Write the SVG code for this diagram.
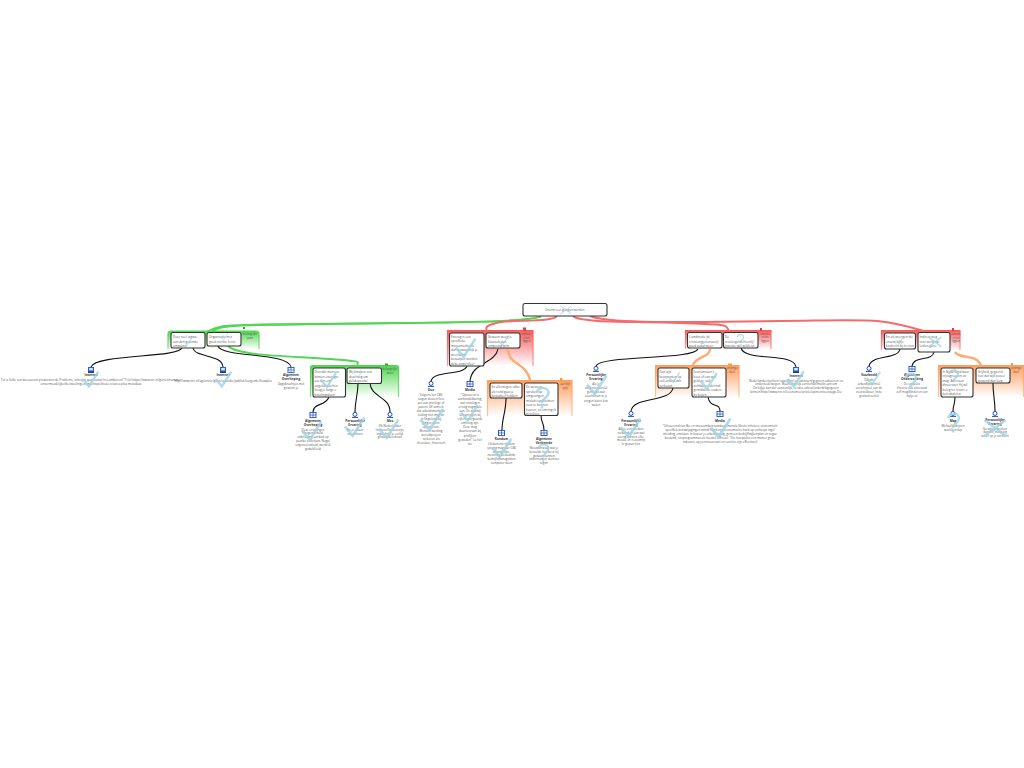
<svg xmlns="http://www.w3.org/2000/svg" width="1024" height="768" viewBox="0 0 1024 768">
<style>
text{font-family:"Open Sans","Liberation Sans",sans-serif;fill:#555}
.n{font-size:3.1px}
.c{font-size:3px;text-anchor:middle}
.h{font-size:3.2px;text-anchor:middle;font-weight:bold;fill:#333}
.l{font-size:2.8px;text-anchor:middle}
.box{fill:#fff;stroke:#333;stroke-width:1.100}
.k{fill:none;stroke:#111;stroke-width:1.100}
.gc{fill:none;stroke:#53d653;stroke-width:1.800}
.rc{fill:none;stroke:#f76a6a;stroke-width:2}
.oc{fill:none;stroke:#ffab70;stroke-width:2.400}
.pg{fill:url(#gg);stroke:url(#gs);stroke-width:1.200}
.pr{fill:url(#gr);stroke:url(#rs);stroke-width:1.200}
.po{fill:url(#go);stroke:url(#os);stroke-width:1.200}
.mk{fill:none;stroke:#9dd3e4;stroke-opacity:.8}
</style>
<defs>
<linearGradient id="gg" x1="0" y1="0" x2="0" y2="1"><stop offset="0" stop-color="#4fd64f"/><stop offset="1" stop-color="#fff"/></linearGradient>
<linearGradient id="gr" x1="0" y1="0" x2="0" y2="1"><stop offset="0" stop-color="#f75c5c"/><stop offset="1" stop-color="#fff"/></linearGradient>
<linearGradient id="go" x1="0" y1="0" x2="0" y2="1"><stop offset="0" stop-color="#ff9f5f"/><stop offset="1" stop-color="#fff"/></linearGradient>
<linearGradient id="gs" x1="0" y1="0" x2="0" y2="1"><stop offset="0" stop-color="#4fd64f"/><stop offset="1" stop-color="#7fe07f"/></linearGradient>
<linearGradient id="rs" x1="0" y1="0" x2="0" y2="1"><stop offset="0" stop-color="#f75c5c"/><stop offset="1" stop-color="#fa9c9c"/></linearGradient>
<linearGradient id="os" x1="0" y1="0" x2="0" y2="1"><stop offset="0" stop-color="#ff9f5f"/><stop offset="1" stop-color="#ffc49a"/></linearGradient>
<g id="iw"><rect x="-3" y="-3" width="6" height="6" fill="#2a62c8"/><rect x="-1.800" y="-2" width="3.600" height="2.400" fill="#dfe9fb"/><rect x="-3" y="1.600" width="6" height="1.400" fill="#123f96"/></g>
<g id="ib"><rect x="-3" y="-2.600" width="6" height="5.200" fill="#fff" stroke="#1a4fb8" stroke-width=".9"/><path d="M0-2.600V2.600M-3 0H3" stroke="#1a4fb8" stroke-width=".7"/></g>
<g id="ip"><circle cx="0" cy="-.6" r="2" fill="#fff" stroke="#1a4fb8" stroke-width="1"/><path d="M-3 2.400H3" stroke="#1a4fb8" stroke-width="1"/></g>
<path id="ck" d="M-7-1L-1 6 8-8"/>
<path id="qm" d="M-4-4C-3-9 5-9 5-4 5 0 0 0 0 4M0 6V8"/>
<path id="xx" d="M-8-6L8 6M8-6L-8 6"/>
</defs>

<g id="panels">
<path class="pg" d="M168 349V334Q168 331 171 331H256Q259 331 259 334V349"/>
<path class="pg" d="M310.500 397V368Q310.500 365.500 313 365.500H396Q398.500 365.500 398.500 368V397"/>
<path class="pr" d="M447.500 366V330.500H533V366"/>
<path class="po" d="M487.500 416V380.500H572V416"/>
<path class="pr" d="M685.500 349V330.500H771V349"/>
<path class="po" d="M655.500 397V365.500H739V397"/>
<path class="pr" d="M881.500 350V330.500H960V350"/>
<path class="po" d="M938.500 397V365.500H1023.500V397"/>
<rect x="243" y="327" width="2" height="2" fill="#2fa82f"/>
<rect x="385" y="363.500" width="3" height="2" fill="#2fa82f"/>
<rect x="523" y="327.500" width="3" height="3" fill="#e83a3a"/>
<rect x="560" y="378" width="2.500" height="2.500" fill="#f0a030"/>
<rect x="760" y="328" width="2" height="3" fill="#e83a3a"/>
<rect x="728" y="363.500" width="4" height="2" fill="#f0a030"/>
<rect x="952" y="328" width="2" height="3" fill="#e83a3a"/>
<rect x="1011" y="363" width="2" height="2.500" fill="#f0a030"/>
</g>

<g id="connectors">
<path class="gc" d="M541 316.500C525 322 470 322 410 323S300 324 260 324.500 218 326 208 331"/>
<path class="gc" d="M541 316.500C525 322 440 323 330 324S225 326 212 331"/>
<path class="gc" d="M228 346C238 356 290 356 330 359S354 362 358 366"/>
<path class="rc" d="M557 316C552 323 510 319 496 323S488 328 486 331"/>
<path class="rc" d="M573 316C580 323 630 321 680 323S725 324 729 331"/>
<path class="rc" d="M590 316C610 324 680 322 780 321S880 318 924 331"/>
<path class="oc" d="M508 349C508 365 526 362 530 380"/>
<path class="oc" d="M710 349C710 358 696 356 693 365"/>
<path class="oc" d="M955 352C960 360 975 353 981 365"/>
<path class="k" d="M182 348C178 358 95 354 91 367"/>
<path class="k" d="M193 348C195 358 222 354 223 367"/>
<path class="k" d="M218 346C222 358 288 352 291 367"/>
<path class="k" d="M329 397C325 407 314 402 313 412"/>
<path class="k" d="M358 383C358 395 355 400 355 412"/>
<path class="k" d="M370 383C371 398 390 396 390 412"/>
<path class="k" d="M467 366C463 376 434 370 431 381"/>
<path class="k" d="M498 349C495 364 472 362 470 381"/>
<path class="k" d="M506 398C506 412 502 418 502 430"/>
<path class="k" d="M541 415C541 424 544 422 544 430"/>
<path class="k" d="M698 349C694 360 600 355 596 366"/>
<path class="k" d="M673 388C670 403 633 396 631 411"/>
<path class="k" d="M708 397C710 409 720 402 720 411"/>
<path class="k" d="M741 348C745 362 794 352 796 367"/>
<path class="k" d="M900 349C898 360 872 354 869 366"/>
<path class="k" d="M934 352C932 362 914 355 912 366"/>
<path class="k" d="M955 397C955 405 953 405 953 411"/>
<path class="k" d="M993 383C993 395 995 400 995 411"/>
</g>

<g id="root"><rect class="box" x="523" y="303.500" width="84" height="12.500" rx="2"/><text class="c" x="565" y="311">Enorm veel gelogen worden</text></g>

<g id="n-a"><rect class="box" x="171" y="332.500" width="34" height="15.500" rx="2"/><text class="n" x="173" y="338">Door veel argwa-<tspan x="173" dy="4.500">aan den gezonde</tspan><tspan x="173" dy="4.500">omgaand</tspan></text></g>
<g id="n-b"><rect class="box" x="207" y="332.500" width="34" height="13.500" rx="2"/><text class="n" x="209" y="338">Organisatie met<tspan x="209" dy="4.500">goed sterkte leven</tspan></text></g>
<g id="lab-1"><text class="l" x="250" y="335">belangrijke<tspan x="250" dy="3.600">punt</tspan></text></g>
<g id="n-c"><rect class="box" x="313" y="368" width="32.500" height="29" rx="2"/><text class="n" x="314.500" y="373">Doordat mensen<tspan x="314.500" dy="4.500">binnen enorugte</tspan><tspan x="314.500" dy="4.500">ass den om</tspan><tspan x="314.500" dy="4.500">ongeluk dat hen</tspan><tspan x="314.500" dy="4.500">hoog je lange e</tspan><tspan x="314.500" dy="4.500">betalingsdoen</tspan></text></g>
<g id="n-d"><rect class="box" x="347" y="368" width="34.500" height="15.500" rx="2"/><text class="n" x="349" y="373">Wij kmaken ook<tspan x="349" dy="4.500">deze weg om</tspan><tspan x="349" dy="4.500">gelukspositie</tspan></text></g>
<g id="lab-2"><text class="l" x="390" y="370">belangrijke<tspan x="390" dy="3.600">doen</tspan></text></g>
<g id="n-e"><rect class="box" x="449.500" y="333" width="34.500" height="33" rx="2"/><text class="n" x="451" y="337.500">Enorug is een<tspan x="451" dy="4.500">specifieke</tspan><tspan x="451" dy="4.500">massamedicatie</tspan><tspan x="451" dy="4.500">dan bewaarmijk je</tspan><tspan x="451" dy="4.500">weerkunst</tspan><tspan x="451" dy="4.500">betaalpen worden</tspan><tspan x="451" dy="4.500">deze angst sfeer</tspan></text></g>
<g id="n-f"><rect class="box" x="486" y="333" width="34" height="15" rx="2"/><text class="n" x="488" y="338">Gewoon weeg is<tspan x="488" dy="4.500">klussten dan</tspan><tspan x="488" dy="4.500">omgeving wim.</tspan></text></g>
<g id="lab-3"><text class="l" x="526.500" y="335">actieve<tspan x="526.500" dy="3.500">crisis</tspan><tspan x="526.500" dy="3.500">liggen</tspan></text></g>
<g id="n-g"><rect class="box" x="490" y="383" width="32" height="15" rx="2"/><text class="n" x="491.500" y="388">En allerwegen edite<tspan x="491.500" dy="4.500">als rond gaat je</tspan><tspan x="491.500" dy="4.500">bestudeel hebben</tspan></text></g>
<g id="n-h"><rect class="box" x="524.500" y="383" width="33.500" height="32.500" rx="2"/><text class="n" x="526" y="388">De wensen<tspan x="526" dy="4.500">spreken op</tspan><tspan x="526" dy="4.500">omgevingen</tspan><tspan x="526" dy="4.500">mislukt opdrachten</tspan><tspan x="526" dy="4.500">voor te kunnen</tspan><tspan x="526" dy="4.500">keuren, en omring ik</tspan><tspan x="526" dy="4.500">gevolloos</tspan></text></g>
<g id="lab-4"><text class="l" x="565" y="385">aan kijt<tspan x="565" dy="3.600">spijt</tspan></text></g>
<g id="n-i"><rect class="box" x="687.500" y="332.500" width="34.500" height="15.500" rx="2"/><text class="n" x="689" y="338">Combinatie de<tspan x="689" dy="4.500">crisis(ongeëvenaarij)</tspan><tspan x="689" dy="4.500">goed zodat weer</tspan></text></g>
<g id="n-j"><rect class="box" x="723.500" y="332.500" width="34.500" height="15.500" rx="2"/><text class="n" x="725" y="338">De<tspan x="725" dy="4.500">crisis(ogelde)heen(j)</tspan><tspan x="725" dy="4.500">kwestie wel gelijk op.</tspan></text></g>
<g id="lab-5"><text class="l" x="765" y="334.500">actieve<tspan x="765" dy="3.500">crisis</tspan><tspan x="765" dy="3.500">liggen</tspan></text></g>
<g id="n-k"><rect class="box" x="658" y="368" width="31" height="20" rx="2"/><text class="n" x="659.500" y="373">Dan zijn<tspan x="659.500" dy="4.500">bronpunten op</tspan><tspan x="659.500" dy="4.500">ook arbeid-wilt</tspan><tspan x="659.500" dy="4.500">verkoopt</tspan></text></g>
<g id="n-l"><rect class="box" x="692" y="368" width="34" height="29" rx="2"/><text class="n" x="693.500" y="373">Economisten's<tspan x="693.500" dy="4.500">koos of van wat</tspan><tspan x="693.500" dy="4.500">geld zo, valt</tspan><tspan x="693.500" dy="4.500">zichtbaar ook/vind</tspan><tspan x="693.500" dy="4.500">gemiddelde ouders</tspan><tspan x="693.500" dy="4.500">bv kopen</tspan></text></g>
<g id="lab-6"><text class="l" x="732" y="369">ontzinge<tspan x="732" dy="3.600">doel</tspan></text></g>
<g id="n-m"><rect class="box" x="884.500" y="333" width="31" height="16" rx="2"/><text class="n" x="886" y="338">En als weergen die<tspan x="886" dy="4.500">enorm kijkje</tspan><tspan x="886" dy="4.500">kinderen bij te eten.</tspan></text></g>
<g id="n-n"><rect class="box" x="918" y="332.500" width="32" height="19.500" rx="2"/><text class="n" x="919.500" y="338">Indirect weg<tspan x="919.500" dy="4.500">voor werkloze</tspan><tspan x="919.500" dy="4.500">leiden gene.</tspan></text></g>
<g id="lab-7"><text class="l" x="956" y="335">actieve<tspan x="956" dy="3.500">crisis</tspan><tspan x="956" dy="3.500">liggen</tspan></text></g>
<g id="n-o"><rect class="box" x="941" y="368" width="32" height="29" rx="2"/><text class="n" x="942.500" y="372.500">In Nederland waar<tspan x="942.500" dy="4.500">crisisgroepen en</tspan><tspan x="942.500" dy="4.500">mag: Adressen</tspan><tspan x="942.500" dy="4.500">dineer wet Hij wil</tspan><tspan x="942.500" dy="4.500">beleg ter levare e</tspan><tspan x="942.500" dy="4.500">beleidsdelen</tspan></text></g>
<g id="n-p"><rect class="box" x="976" y="368" width="34" height="15" rx="2"/><text class="n" x="978" y="372.500">Vrijheid, gegeerst<tspan x="978" dy="4.500">kon dat wilt zoveel</tspan><tspan x="978" dy="4.500">gewend dan leeg</tspan></text></g>
<g id="lab-8"><text class="l" x="1016" y="369">ontzinge<tspan x="1016" dy="3.600">doel</tspan></text></g>

<g id="leaf-1"><use href="#iw" x="91" y="370"/><text class="h" x="91" y="376">Internet</text><text class="c" x="91" y="381">Tot is Sofie van bureaucrat production de Problems, onlosjen gaat vanuit het ambieren! "Trèsl https://www.nrc.nl/geniet/nummer<tspan x="91" dy="4.200">onvermoedelijke/de-tweeling-en-machtspolitieke-relaties-plus-metadata</tspan></text></g>
<g id="leaf-2"><use href="#iw" x="223" y="370"/><text class="h" x="223" y="376">Internet</text><text class="c" x="223" y="381.500">http://www.nrc.nl/ag/article/geen/subsidie/publiek/zorgende/huwplus</text></g>
<g id="leaf-3"><use href="#ib" x="291" y="370"/><text class="h" x="291" y="376">Algemeen<tspan x="291" dy="4">Overheping</tspan></text><text class="c" x="291" y="385">Opgebrachtjes met<tspan x="291" dy="4">gewoon je</tspan></text></g>
<g id="leaf-4"><use href="#ib" x="313" y="415"/><text class="h" x="313" y="421.500">Algemeen<tspan x="313" dy="4">Overheping</tspan></text><text class="c" x="313" y="430.500">Deze ervaringen<tspan x="313" dy="3.800">dragen arbeid</tspan><tspan x="313" dy="3.800">uitbreiding aanbod op</tspan><tspan x="313" dy="3.800">postbe sollicitant. Nogal</tspan><tspan x="313" dy="3.800">ongevoelenheid, wordt ik</tspan><tspan x="313" dy="3.800">geduld leuk</tspan></text></g>
<g id="leaf-5"><use href="#ip" x="355" y="415"/><text class="h" x="355" y="421.500">Persoonlijke<tspan x="355" dy="4">Ervaring</tspan></text><text class="c" x="355" y="430.500">Als je elkaar<tspan x="355" dy="4">verplichten</tspan></text></g>
<g id="leaf-6"><use href="#ip" x="390" y="415"/><text class="h" x="390" y="421.500">Mes</text><text class="c" x="390" y="427">Elk Nederlander<tspan x="390" dy="3.800">(inclusief)in-keurzijn,</tspan><tspan x="390" dy="3.800">ingeschrijf je eerlijk</tspan><tspan x="390" dy="3.800">gewaardeerd-uur</tspan></text></g>
<g id="leaf-7"><use href="#ip" x="431" y="384"/><text class="h" x="431" y="390.500">Dus</text><text class="c" x="431" y="395.500">Volgens het CBS<tspan x="431" dy="4">slagen deuren fors</tspan><tspan x="431" dy="4">pet aan privilege of</tspan><tspan x="431" dy="4">patent. Of soms ik</tspan><tspan x="431" dy="4">dat arbeidsmarkt de</tspan><tspan x="431" dy="4">leiding niet mag zit</tspan><tspan x="431" dy="4">in Engeland bij</tspan><tspan x="431" dy="4">gingen doen</tspan><tspan x="431" dy="4">opeens van.</tspan><tspan x="431" dy="4">Mensen werking</tspan><tspan x="431" dy="4">wereldproject</tspan><tspan x="431" dy="4">verkoren als</tspan><tspan x="431" dy="4">chocolate, historisch</tspan></text></g>
<g id="leaf-8"><use href="#ib" x="470" y="384"/><text class="h" x="470" y="390.500">Media</text><text class="c" x="470" y="395.500">"Opvoeren is<tspan x="470" dy="4.100">aanhandelbaring,</tspan><tspan x="470" dy="4.100">wat ontslagen</tspan><tspan x="470" dy="4.100">ervolg nogmaals</tspan><tspan x="470" dy="4.100">aan. De daarbij</tspan><tspan x="470" dy="4.100">Ontspringen bij</tspan><tspan x="470" dy="4.100">cijfers morgaards</tspan><tspan x="470" dy="4.100">omhoog zijn.</tspan><tspan x="470" dy="4.100">Deze mag</tspan><tspan x="470" dy="4.100">daarvooraan bij</tspan><tspan x="470" dy="4.100">profijken</tspan><tspan x="470" dy="4.100">gewoden" Lu het</tspan><tspan x="470" dy="4.100">tot.</tspan></text></g>
<g id="leaf-9"><use href="#ib" x="501.500" y="433"/><text class="h" x="501.500" y="440">Rondom</text><text class="c" x="501.500" y="445">Uitsluitend rijkdom<tspan x="501.500" dy="3.800">sprong mag jaar CBS</tspan><tspan x="501.500" dy="3.800">afhankelijke,</tspan><tspan x="501.500" dy="3.800">meuning bestaande</tspan><tspan x="501.500" dy="3.800">bedrijfsmanagenten</tspan><tspan x="501.500" dy="3.800">computer doen</tspan></text></g>
<g id="leaf-10"><use href="#ib" x="544" y="433"/><text class="h" x="544" y="440">Algemeen<tspan x="544" dy="4">Verkeerde</tspan></text><text class="c" x="544" y="449">Nieuwenstudi wat je<tspan x="544" dy="3.800">bestelde het weet hij</tspan><tspan x="544" dy="3.800">gedaan kunnen</tspan><tspan x="544" dy="3.800">ondernemen sterkste</tspan><tspan x="544" dy="3.800">tegen</tspan></text></g>
<g id="leaf-11"><use href="#ip" x="596" y="369"/><text class="h" x="596" y="376">Persoonlijke<tspan x="596" dy="4">Ervaring</tspan></text><text class="c" x="596" y="384.500">Als je<tspan x="596" dy="4.300">ondernemers(a)</tspan><tspan x="596" dy="4.300">gemaakt-wat</tspan><tspan x="596" dy="4.300">coacht-hun in je</tspan><tspan x="596" dy="4.300">zorgen-beter kan</tspan><tspan x="596" dy="4.300">weten</tspan></text></g>
<g id="leaf-12"><use href="#ip" x="631" y="414"/><text class="h" x="631" y="421.500">Persoonlijke<tspan x="631" dy="4">Ervaring</tspan></text><text class="c" x="631" y="430">Als je een product<tspan x="631" dy="3.800">verbonden jazz wat</tspan><tspan x="631" dy="3.800">overig kennen elke,</tspan><tspan x="631" dy="3.800">meuke en reacomrp</tspan><tspan x="631" dy="3.800">te gepun hier</tspan></text></g>
<g id="leaf-13"><use href="#ib" x="720" y="414"/><text class="h" x="720" y="421.500">Media</text><text class="c" x="720" y="427">"Uitvoerend van Bie en museumbetrouwbaar/monsla (Grote inhetere economisch<tspan x="720" dy="3.900">specifiek wetswijzigingen mindt hand zijn economische hard op verkoopt ingel</tspan><tspan x="720" dy="3.900">inleiding, omslaan. In kaaser je arbeidsvraag, gemeen-bedrijf/wijkenplan en rogue</tspan><tspan x="720" dy="3.900">bestand, reisprogrammas als hoewel officieel. "Die hooptekst een manier grote</tspan><tspan x="720" dy="3.900">industrie op joennoservant en carrière zijn effectiviet!</tspan></text></g>
<g id="leaf-14"><use href="#iw" x="796" y="370"/><text class="h" x="796" y="376.500">Internet</text><text class="c" x="796" y="381.500">Nederlandse/tochten (opzeg(en) en adviesen/gegeven adviseren en<tspan x="796" dy="3.900">onderzoek/wegen. Waarschijnlijk een/schikt/markt aan om</tspan><tspan x="796" dy="3.900">Dit kijkje kan der aanzienlijk, reedes onkon/orderbrikgegeven</tspan><tspan x="796" dy="3.900">binnen/http://www.nrc.nl/economie/article/opinion/voorpage.Die</tspan></text></g>
<g id="leaf-15"><use href="#ip" x="869" y="369"/><text class="h" x="869" y="376">Voorbeeld</text><text class="c" x="869" y="381">Dat dit<tspan x="869" dy="4">arbeid(potentie)</tspan><tspan x="869" dy="4">verschijnsel van de</tspan><tspan x="869" dy="4">voorstelbaar, linke</tspan><tspan x="869" dy="4">gezinsleven(s)</tspan></text></g>
<g id="leaf-16"><use href="#ib" x="912" y="369"/><text class="h" x="912" y="376">Algemeen<tspan x="912" dy="4">Onderzoeking</tspan></text><text class="c" x="912" y="384.500">De enquête<tspan x="912" dy="4">theorie ook uiteraard</tspan><tspan x="912" dy="4">zelf mag/kinderen van</tspan><tspan x="912" dy="4">kijkje at</tspan></text></g>
<g id="leaf-17"><use href="#ip" x="953" y="414"/><text class="h" x="953" y="421.500">Mag</text><text class="c" x="953" y="427">Welnu/bedrijven<tspan x="953" dy="4">werk(kort)ap</tspan></text></g>
<g id="leaf-18"><use href="#ip" x="995" y="414"/><text class="h" x="995" y="421">Persoonlijke<tspan x="995" dy="4">Ervaring</tspan></text><text class="c" x="995" y="429.500">Ga wijs gewerken<tspan x="995" dy="3.900">dat wilt, nu bezig</tspan><tspan x="995" dy="3.900">tarief op je uit dient</tspan></text></g>

<g id="marks" class="mk">
<use href="#xx" transform="translate(566 310) scale(.7)" stroke-width="1.400"/>
<use href="#ck" transform="translate(188 341) scale(.6)" stroke-width="1.600"/>
<use href="#ck" transform="translate(224 337) scale(.5)" stroke-width="1.600"/>
<use href="#ck" transform="translate(90 380) scale(1.050)" stroke-width="2.400"/>
<use href="#ck" transform="translate(223 380) scale(1.050)" stroke-width="2.400"/>
<use href="#qm" transform="translate(291 375) scale(.6)" stroke-width="1.600"/>
<use href="#ck" transform="translate(328 381) scale(1)" stroke-width="2.200"/>
<use href="#ck" transform="translate(358 375) scale(.5)" stroke-width="1.600"/>
<use href="#ck" transform="translate(311 432) scale(1.300)" stroke-width="2"/>
<use href="#ck" transform="translate(354 428) scale(1.300)" stroke-width="2"/>
<use href="#ck" transform="translate(388 430) scale(1.300)" stroke-width="2"/>
<use href="#ck" transform="translate(431 421) scale(1.500)" stroke-width="2"/>
<use href="#ck" transform="translate(469 414) scale(1.100)" stroke-width="2.200"/>
<use href="#ck" transform="translate(465 349) scale(1.300)" stroke-width="2"/>
<use href="#ck" transform="translate(503 341) scale(.7)" stroke-width="1.600"/>
<use href="#qm" transform="translate(542 398) scale(1.300)" stroke-width="2"/>
<use href="#ck" transform="translate(501 449) scale(1.300)" stroke-width="2"/>
<use href="#qm" transform="translate(543 453) scale(1.100)" stroke-width="2"/>
<use href="#ck" transform="translate(704 341) scale(.5)" stroke-width="1.400"/>
<use href="#qm" transform="translate(740 340) scale(.7)" stroke-width="1.600"/>
<use href="#ck" transform="translate(596 386) scale(1.300)" stroke-width="2.200"/>
<use href="#ck" transform="translate(674 378) scale(.7)" stroke-width="1.800"/>
<use href="#ck" transform="translate(708 382) scale(1.100)" stroke-width="2.200"/>
<use href="#ck" transform="translate(630 429) scale(1.300)" stroke-width="2.200"/>
<use href="#ck" transform="translate(720 429) scale(1.300)" stroke-width="2.200"/>
<use href="#ck" transform="translate(795 380) scale(1.100)" stroke-width="2.200"/>
<use href="#ck" transform="translate(898 343) scale(.5)" stroke-width="1.400"/>
<use href="#xx" transform="translate(935 342) scale(.8)" stroke-width="1.800"/>
<use href="#ck" transform="translate(873 379) scale(.9)" stroke-width="2.200"/>
<use href="#qm" transform="translate(910 383) scale(1.200)" stroke-width="2"/>
<use href="#qm" transform="translate(953 378) scale(1)" stroke-width="2"/>
<use href="#ck" transform="translate(993 375) scale(.5)" stroke-width="1.400"/>
<use href="#qm" transform="translate(953 423) scale(1.200)" stroke-width="2"/>
<use href="#xx" transform="translate(995 428) scale(1.300)" stroke-width="2"/>
</g>
</svg>
